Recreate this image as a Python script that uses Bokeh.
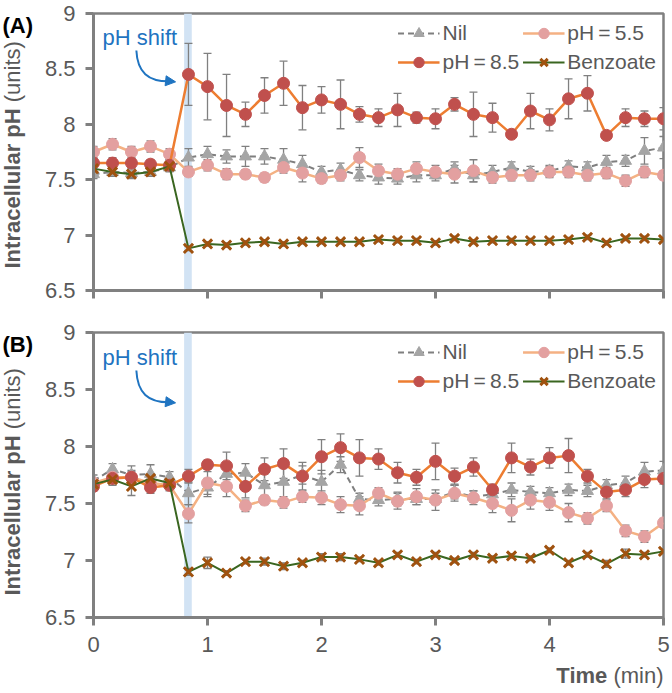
from bokeh.plotting import figure
from bokeh.layouts import gridplot
from bokeh.models import (ColumnDataSource, Whisker, TeeHead, BoxAnnotation, Label,
                          Legend, LegendItem, Arrow, NormalHead, FixedTicker, Range1d)
from bokeh.embed import file_html
from bokeh.resources import INLINE
import math

# ---------------- data ----------------
time_min = [0.0, 0.167, 0.333, 0.5, 0.667, 0.833, 1.0, 1.167, 1.333, 1.5, 1.667, 1.833,
            2.0, 2.167, 2.333, 2.5, 2.667, 2.833, 3.0, 3.167, 3.333, 3.5, 3.667, 3.833,
            4.0, 4.167, 4.333, 4.5, 4.667, 4.833, 5.0]

series_names = ["Nil", "pH\u2009=\u20095.5", "pH\u2009=\u20098.5", "Benzoate"]

# Panel A
nil_A = [7.55, 7.57, 7.56, 7.57, 7.61, 7.70, 7.73, 7.71, 7.71, 7.71, 7.68, 7.64, 7.57, 7.59, 7.54, 7.52,
         7.51, 7.54, 7.54, 7.60, 7.54, 7.57, 7.61, 7.57, 7.58, 7.62, 7.61, 7.66, 7.67, 7.76, 7.79]
nil_A_err = [0.04, 0.04, 0.04, 0.04, 0.04, 0.08, 0.07, 0.06, 0.09, 0.07, 0.10, 0.08, 0.05, 0.06, 0.05, 0.06,
             0.05, 0.06, 0.05, 0.06, 0.06, 0.06, 0.05, 0.05, 0.05, 0.05, 0.05, 0.06, 0.05, 0.12, 0.10]
ph55_A = [7.75, 7.82, 7.75, 7.80, 7.73, 7.57, 7.63, 7.55, 7.55, 7.52, 7.61, 7.56, 7.51, 7.54, 7.70, 7.58,
          7.55, 7.60, 7.57, 7.55, 7.58, 7.52, 7.54, 7.54, 7.57, 7.57, 7.54, 7.56, 7.49, 7.57, 7.54]
ph55_A_err = [0.05, 0.05, 0.05, 0.05, 0.05, 0.04, 0.05, 0.05, 0.04, 0.04, 0.05, 0.08, 0.04, 0.05, 0.09, 0.06,
              0.05, 0.06, 0.06, 0.08, 0.10, 0.05, 0.05, 0.05, 0.05, 0.05, 0.05, 0.05, 0.05, 0.05, 0.04]
ph85_A = [7.65, 7.65, 7.65, 7.64, 7.63, 8.45, 8.34, 8.17, 8.09, 8.26, 8.37, 8.15, 8.22, 8.18, 8.09, 8.06,
          8.13, 8.06, 8.05, 8.18, 8.09, 8.06, 7.91, 8.12, 8.04, 8.23, 8.28, 7.90, 8.06, 8.05, 8.05]
ph85_A_err = [0.04, 0.05, 0.04, 0.04, 0.05, 0.28, 0.30, 0.28, 0.11, 0.16, 0.20, 0.20, 0.12, 0.22, 0.07, 0.08,
              0.15, 0.05, 0.09, 0.06, 0.20, 0.13, 0.03, 0.16, 0.10, 0.18, 0.16, 0.03, 0.08, 0.07, 0.10]
benz_A = [7.60, 7.57, 7.55, 7.57, 7.62, 6.88, 6.92, 6.91, 6.93, 6.94, 6.92, 6.94, 6.94, 6.94, 6.94, 6.96,
          6.95, 6.95, 6.93, 6.97, 6.94, 6.95, 6.95, 6.95, 6.95, 6.96, 6.98, 6.93, 6.97, 6.97, 6.96]
benz_A_err = [0.03, 0.03, 0.04, 0.03, 0.03, 0.02, 0.02, 0.02, 0.02, 0.02, 0.02, 0.02, 0.02, 0.02, 0.02, 0.02,
              0.02, 0.02, 0.02, 0.02, 0.02, 0.02, 0.02, 0.02, 0.02, 0.02, 0.02, 0.02, 0.02, 0.02, 0.02]

# Panel B
nil_B = [7.70, 7.80, 7.75, 7.76, 7.73, 7.59, 7.64, 7.76, 7.77, 7.66, 7.69, 7.75, 7.69, 7.84, 7.54, 7.53,
         7.54, 7.54, 7.54, 7.60, 7.56, 7.58, 7.62, 7.60, 7.59, 7.62, 7.61, 7.66, 7.68, 7.78, 7.79]
nil_B_err = [0.05, 0.05, 0.08, 0.08, 0.05, 0.10, 0.08, 0.10, 0.08, 0.10, 0.15, 0.08, 0.10, 0.07, 0.05, 0.05,
             0.06, 0.05, 0.05, 0.06, 0.05, 0.05, 0.06, 0.05, 0.05, 0.05, 0.05, 0.05, 0.06, 0.08, 0.08]
ph55_B = [7.68, 7.73, 7.73, 7.68, 7.66, 7.41, 7.68, 7.65, 7.48, 7.53, 7.51, 7.56, 7.55, 7.49, 7.48, 7.59,
          7.52, 7.56, 7.53, 7.59, 7.55, 7.50, 7.44, 7.53, 7.51, 7.42, 7.37, 7.48, 7.26, 7.21, 7.33]
ph55_B_err = [0.04, 0.05, 0.05, 0.05, 0.05, 0.08, 0.10, 0.09, 0.05, 0.04, 0.05, 0.05, 0.06, 0.07, 0.08, 0.05,
              0.07, 0.07, 0.09, 0.07, 0.06, 0.08, 0.10, 0.08, 0.07, 0.08, 0.05, 0.05, 0.05, 0.05, 0.04]
ph85_B = [7.65, 7.72, 7.73, 7.64, 7.66, 7.74, 7.84, 7.83, 7.65, 7.80, 7.85, 7.74, 7.91, 7.99, 7.90, 7.89,
          7.77, 7.73, 7.87, 7.74, 7.82, 7.62, 7.90, 7.82, 7.90, 7.92, 7.74, 7.60, 7.62, 7.71, 7.72]
ph85_B_err = [0.04, 0.06, 0.06, 0.05, 0.04, 0.06, 0.04, 0.12, 0.10, 0.10, 0.13, 0.12, 0.15, 0.12, 0.16, 0.09,
              0.09, 0.07, 0.16, 0.07, 0.08, 0.05, 0.13, 0.07, 0.09, 0.15, 0.06, 0.06, 0.06, 0.07, 0.05]
benz_B = [7.67, 7.71, 7.65, 7.72, 7.68, 6.90, 6.98, 6.89, 6.99, 6.99, 6.95, 6.98, 7.03, 7.03, 7.01, 6.98,
          7.05, 6.99, 7.05, 7.00, 7.05, 7.02, 7.04, 7.02, 7.09, 6.98, 7.05, 6.97, 7.06, 7.05, 7.08]
benz_B_err = [0.03, 0.03, 0.08, 0.04, 0.03, 0.03, 0.05, 0.02, 0.02, 0.03, 0.03, 0.02, 0.03, 0.03, 0.02, 0.02,
              0.02, 0.02, 0.02, 0.02, 0.02, 0.02, 0.02, 0.02, 0.02, 0.02, 0.02, 0.03, 0.04, 0.02, 0.02]

x_ticks = [0, 1, 2, 3, 4, 5]
y_ticks = [6.5, 7, 7.5, 8, 8.5, 9]
y_tick_labels = ["6.5", "7", "7.5", "8", "8.5", "9"]
shift_band = (0.795, 0.862)

# ---------------- style / layout ----------------
FONT = "Liberation Sans"
AXIS_GRAY = "#808080"
TEXT_GRAY = "#595959"
BLUE = "#1f74c1"
BAND = "#d2e3f4"

STRIP_W = 36
MAIN_W = 634
LEFT = 57
RIGHT = 7
XMIN, XMAX, YMIN, YMAX = 0, 5, 6.5, 9
TITLE_FS = 22
TITLE_X = 12


def blank(width, height, x_rng, y_rng):
    s = figure(width=width, height=height, x_range=Range1d(*x_rng), y_range=Range1d(*y_rng),
               output_backend="svg", toolbar_location=None, x_axis_type=None, y_axis_type=None,
               min_border=0, min_border_left=0, min_border_right=0, min_border_top=0,
               min_border_bottom=0)
    s.outline_line_color = None
    s.grid.visible = False
    s.background_fill_color = "white"
    s.border_fill_color = "white"
    return s


def y_title_strip(height, b_top, b_bottom, tag, tag_y, title_bottom):
    # the grid aligns this strip's frame with the neighbouring panel's frame,
    # so use a y range in "pixels from the top" covering that frame
    s = blank(STRIP_W, height, (0, STRIP_W), (height - b_bottom, b_top))
    s.add_layout(Label(x=2, y=tag_y, text=tag, text_font=FONT,
                       text_font_style="bold", text_font_size="22px", text_color="black",
                       text_baseline="middle", text_align="left"))
    s.add_layout(Label(x=TITLE_X, y=title_bottom, text="Intracellular pH", angle=math.pi / 2,
                       text_font=FONT, text_font_style="bold", text_font_size=f"{TITLE_FS}px",
                       text_color=TEXT_GRAY, text_baseline="alphabetic", text_align="left"))
    s.add_layout(Label(x=TITLE_X, y=title_bottom - (7.28 + 0.278) * TITLE_FS, text="(units)",
                       angle=math.pi / 2, text_font=FONT, text_font_size=f"{TITLE_FS}px",
                       text_color=TEXT_GRAY, text_baseline="alphabetic", text_align="left"))
    return s


def make_panel(data, height, b_top, b_bottom, show_xlabels):
    p = figure(width=MAIN_W, height=height, x_range=(XMIN, XMAX), y_range=(YMIN, YMAX),
               output_backend="svg", toolbar_location=None,
               min_border_left=LEFT, min_border_right=RIGHT,
               min_border_top=b_top, min_border_bottom=b_bottom)
    p.background_fill_color = "white"
    p.border_fill_color = "white"
    p.xgrid.visible = False
    p.ygrid.visible = False
    p.outline_line_color = AXIS_GRAY
    p.outline_line_width = 2.5

    p.axis.axis_line_color = AXIS_GRAY
    p.axis.axis_line_width = 3
    p.axis.major_tick_line_color = AXIS_GRAY
    p.axis.major_tick_line_width = 3
    p.axis.major_tick_out = 8
    p.axis.major_tick_in = 0
    p.axis.minor_tick_line_color = None
    p.axis.major_label_text_font = FONT
    p.axis.major_label_text_font_size = "22px"
    p.axis.major_label_text_color = TEXT_GRAY
    p.xaxis.ticker = FixedTicker(ticks=x_ticks)
    p.yaxis.ticker = FixedTicker(ticks=y_ticks)
    p.yaxis.major_label_overrides = {t: s for t, s in zip(y_ticks, y_tick_labels)}
    p.yaxis.major_label_standoff = 10
    if show_xlabels:
        p.xaxis.major_label_standoff = 11
    else:
        p.xaxis.major_label_overrides = {t: "" for t in x_ticks}
        p.xaxis.major_label_standoff = 0

    # shift band
    p.add_layout(BoxAnnotation(left=shift_band[0], right=shift_band[1], fill_color=BAND,
                               fill_alpha=1.0, line_color=None, level="underlay"))

    # error bars
    for vals, errs in [(data["nil"], data["nil_e"]), (data["p55"], data["p55_e"]),
                       (data["p85"], data["p85_e"]), (data["bz"], data["bz_e"])]:
        src = ColumnDataSource(dict(x=time_min,
                                    lower=[v - e for v, e in zip(vals, errs)],
                                    upper=[v + e for v, e in zip(vals, errs)]))
        p.add_layout(Whisker(source=src, base="x", lower="lower", upper="upper",
                             line_color=AXIS_GRAY, line_width=1.3, level="underlay",
                             upper_head=TeeHead(size=8, line_color=AXIS_GRAY, line_width=1.3),
                             lower_head=TeeHead(size=8, line_color=AXIS_GRAY, line_width=1.3)))

    # series
    l_nil = p.line(time_min, data["nil"], line_color="#7f7f7f", line_width=2, line_dash="6 4")
    s_nil = p.scatter(time_min, data["nil"], marker="triangle", size=12,
                      fill_color="#a5a5a5", line_color="#a5a5a5")
    l_55 = p.line(time_min, data["p55"], line_color="#f4b183", line_width=2.5)
    s_55 = p.scatter(time_min, data["p55"], marker="circle", size=12,
                     fill_color="#e3a0a0", line_color="#e3a0a0")
    l_85 = p.line(time_min, data["p85"], line_color="#ed7d31", line_width=2.5)
    s_85 = p.scatter(time_min, data["p85"], marker="circle", size=12,
                     fill_color="#c0504d", line_color="#c0504d")
    l_bz = p.line(time_min, data["bz"], line_color="#3a6620", line_width=2)
    s_bz = p.scatter(time_min, data["bz"], marker="x", size=13,
                     line_color="#a0520f", line_width=3)

    legend = Legend(items=[LegendItem(label=series_names[0], renderers=[l_nil, s_nil]),
                           LegendItem(label=series_names[1], renderers=[l_55, s_55]),
                           LegendItem(label=series_names[2], renderers=[l_85, s_85]),
                           LegendItem(label=series_names[3], renderers=[l_bz, s_bz])],
                    location="top_right", orientation="horizontal", ncols=2,
                    glyph_width=42, glyph_height=26, label_standoff=3, spacing=3,
                    padding=0, margin=7, background_fill_alpha=0, border_line_color=None,
                    label_text_font=FONT, label_text_font_size="21px",
                    label_text_color=TEXT_GRAY)
    p.add_layout(legend)

    # pH shift annotation
    p.add_layout(Label(x=0.08, y=8.78, text="pH shift", text_color=BLUE, text_font=FONT,
                       text_font_size="22px", text_baseline="middle", text_align="left"))
    p.bezier(x0=[0.376], y0=[8.666], x1=[0.66], y1=[8.388],
             cx0=[0.385], cy0=[8.467], cx1=[0.481], cy1=[8.388],
             line_color=BLUE, line_width=2)
    p.add_layout(Arrow(end=NormalHead(size=10, fill_color=BLUE, line_color=BLUE),
                       x_start=0.64, y_start=8.392, x_end=0.72, y_end=8.383,
                       line_color=BLUE, line_width=2))
    return p


data_A = dict(nil=nil_A, nil_e=nil_A_err, p55=ph55_A, p55_e=ph55_A_err,
              p85=ph85_A, p85_e=ph85_A_err, bz=benz_A, bz_e=benz_A_err)
data_B = dict(nil=nil_B, nil_e=nil_B_err, p55=ph55_B, p55_e=ph55_B_err,
              p85=ph85_B, p85_e=ph85_B_err, bz=benz_B, bz_e=benz_B_err)

H_A, TOP_A, BOT_A = 305, 13, 15
H_B, TOP_B, BOT_B = 358, 27, 46
H_T = 28

pA = make_panel(data_A, H_A, TOP_A, BOT_A, show_xlabels=False)
pB = make_panel(data_B, H_B, TOP_B, BOT_B, show_xlabels=True)
sA = y_title_strip(H_A, TOP_A, BOT_A, "(A)", tag_y=25, title_bottom=268)
sB = y_title_strip(H_B, TOP_B, BOT_B, "(B)", tag_y=39, title_bottom=290)

# x-axis title strip (bold + regular); its frame is aligned with the panels' frames
sT = blank(MAIN_W, H_T, (LEFT, MAIN_W - RIGHT), (0, H_T))
x_right = MAIN_W - RIGHT
sT.add_layout(Label(x=x_right, y=16, text="(min)", text_font=FONT, text_font_size="22px",
                    text_color=TEXT_GRAY, text_baseline="middle", text_align="right"))
sT.add_layout(Label(x=x_right - (2.277 + 0.278) * 22, y=16, text="Time", text_font=FONT,
                    text_font_style="bold", text_font_size="22px", text_color=TEXT_GRAY,
                    text_baseline="middle", text_align="right"))

grid = gridplot([[sA, pA], [sB, pB], [None, sT]], toolbar_location=None)
open("out.html", "w").write(file_html(grid, INLINE))
